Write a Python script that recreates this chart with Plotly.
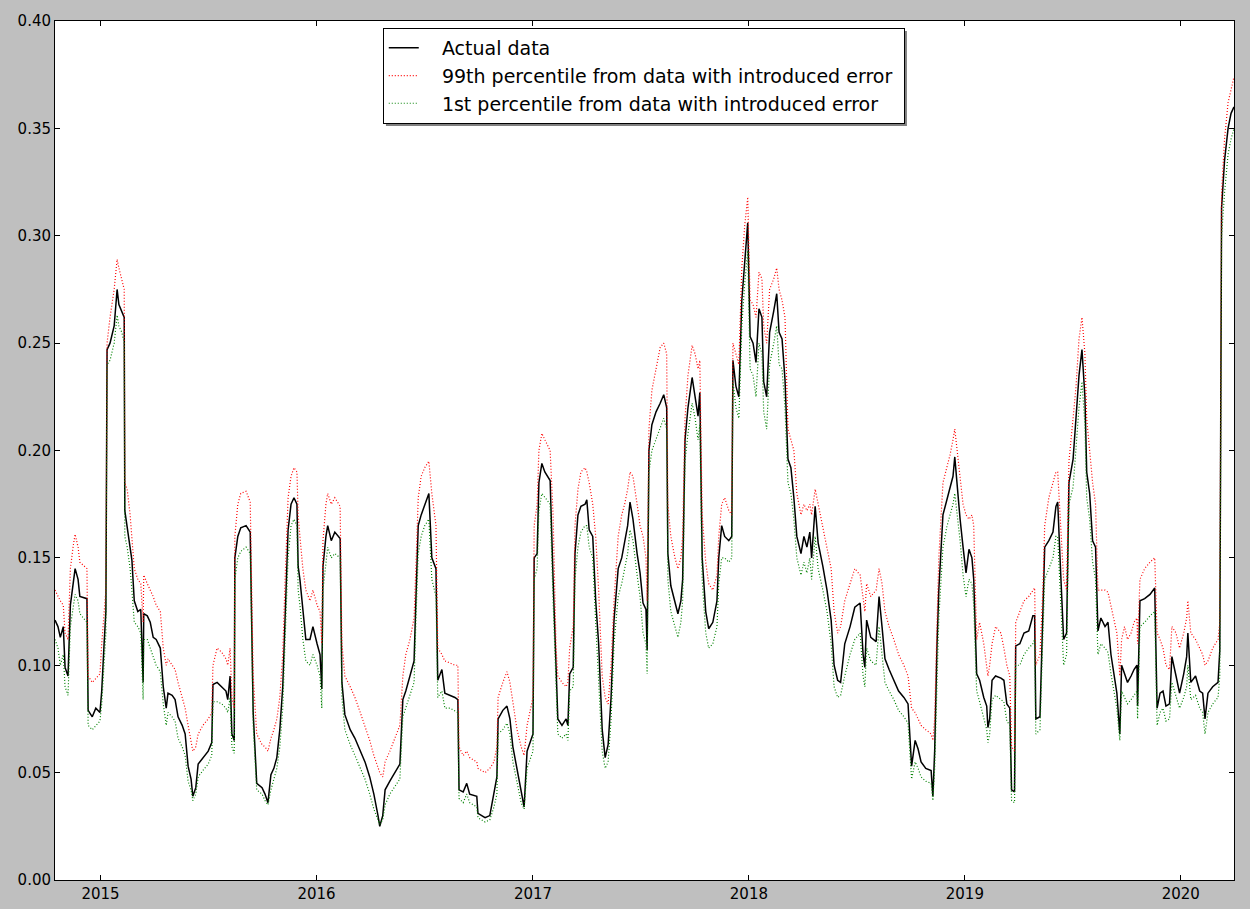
import plotly.graph_objects as go

dates = [
"2014-10-16","2014-10-21","2014-10-25","2014-10-30","2014-11-02","2014-11-07","2014-11-11","2014-11-16","2014-11-19","2014-11-24",
"2014-11-27","2014-12-09","2014-12-11","2014-12-18","2014-12-24","2014-12-31","2015-01-03","2015-01-07","2015-01-10","2015-01-12",
"2015-01-17","2015-01-24","2015-01-29","2015-02-01","2015-02-06","2015-02-10","2015-02-11","2015-02-15","2015-02-20","2015-02-23",
"2015-02-27","2015-03-05","2015-03-10","2015-03-14","2015-03-15","2015-03-21","2015-03-26","2015-03-31","2015-04-05","2015-04-12",
"2015-04-17","2015-04-22","2015-04-25","2015-05-02","2015-05-07","2015-05-12","2015-05-19","2015-05-24","2015-05-29","2015-06-03",
"2015-06-06","2015-06-11","2015-06-15","2015-06-23","2015-07-02","2015-07-08","2015-07-10","2015-07-17","2015-07-25","2015-08-01",
"2015-08-04","2015-08-08","2015-08-11","2015-08-15","2015-08-16","2015-08-21","2015-08-26","2015-09-04","2015-09-11","2015-09-16",
"2015-09-22","2015-10-01","2015-10-06","2015-10-11","2015-10-16","2015-10-21","2015-10-26","2015-10-31","2015-11-05","2015-11-09",
"2015-11-14","2015-11-19","2015-11-24","2015-11-29","2015-12-01","2015-12-04","2015-12-09","2015-12-14","2015-12-21","2015-12-26",
"2016-01-02","2016-01-07","2016-01-10","2016-01-12","2016-01-17","2016-01-20","2016-01-26","2016-02-01","2016-02-10","2016-02-13",
"2016-02-18","2016-02-27","2016-03-06","2016-03-15","2016-03-23","2016-03-31","2016-04-07","2016-04-14","2016-04-17","2016-04-22",
"2016-04-26","2016-05-04","2016-05-13","2016-05-21","2016-05-26","2016-05-31","2016-06-07","2016-06-14","2016-06-17","2016-06-21",
"2016-06-26","2016-07-02","2016-07-09","2016-07-14","2016-07-21","2016-07-24","2016-07-31","2016-08-05","2016-08-14","2016-08-22",
"2016-08-27","2016-08-29","2016-09-05","2016-09-11","2016-09-16","2016-09-28","2016-09-30","2016-10-12","2016-10-20","2016-10-27",
"2016-11-01","2016-11-03","2016-11-11","2016-11-18","2016-11-23","2016-11-28","2016-12-05","2016-12-12","2016-12-17","2016-12-22",
"2017-01-01","2017-01-03","2017-01-08","2017-01-11","2017-01-16","2017-01-21","2017-01-30","2017-02-04","2017-02-09","2017-02-12",
"2017-02-19","2017-02-26","2017-03-01","2017-03-04","2017-03-10","2017-03-13","2017-03-18","2017-03-23","2017-03-30","2017-04-02",
"2017-04-06","2017-04-12","2017-04-17","2017-04-22","2017-04-28","2017-05-03","2017-05-08","2017-05-13","2017-05-18","2017-05-25",
"2017-05-31","2017-06-05","2017-06-10","2017-06-14","2017-06-19","2017-06-26","2017-07-01","2017-07-06","2017-07-11","2017-07-13",
"2017-07-16","2017-07-21","2017-07-28","2017-08-04","2017-08-10","2017-08-15","2017-08-17","2017-08-22","2017-08-29","2017-09-03",
"2017-09-08","2017-09-11","2017-09-15","2017-09-20","2017-09-27","2017-10-02","2017-10-07","2017-10-10","2017-10-14","2017-10-20",
"2017-10-25","2017-11-01","2017-11-08","2017-11-11","2017-11-16","2017-11-21","2017-11-28","2017-12-03","2017-12-05","2017-12-10",
"2017-12-15","2017-12-20","2017-12-25","2017-12-30","2018-01-03","2018-01-08","2018-01-13","2018-01-18","2018-01-23","2018-01-26",
"2018-01-31","2018-02-05","2018-02-12","2018-02-17","2018-02-21","2018-02-26","2018-03-03","2018-03-08","2018-03-13","2018-03-18",
"2018-03-23","2018-03-30","2018-04-04","2018-04-09","2018-04-14","2018-04-17","2018-04-23","2018-04-28","2018-05-06","2018-05-13",
"2018-05-20","2018-05-25","2018-05-31","2018-06-05","2018-06-12","2018-06-21","2018-06-29","2018-07-08","2018-07-13","2018-07-16",
"2018-07-19","2018-07-26","2018-08-04","2018-08-09","2018-08-14","2018-08-19","2018-08-26","2018-09-03","2018-09-11","2018-09-20",
"2018-09-27","2018-10-03","2018-10-09","2018-10-14","2018-10-19","2018-10-27","2018-11-05","2018-11-08","2018-11-11","2018-11-15",
"2018-11-18","2018-11-25","2018-12-02","2018-12-07","2018-12-12","2018-12-15","2018-12-19","2018-12-24","2018-12-29","2019-01-03",
"2019-01-08","2019-01-13","2019-01-16","2019-01-21","2019-01-26","2019-02-02","2019-02-07","2019-02-09","2019-02-12","2019-02-16",
"2019-02-22","2019-03-03","2019-03-08","2019-03-13","2019-03-18","2019-03-21","2019-03-26","2019-03-28","2019-04-04","2019-04-11",
"2019-04-19","2019-04-26","2019-04-29","2019-05-01","2019-05-08","2019-05-13","2019-05-16","2019-05-23","2019-05-30","2019-06-04",
"2019-06-07","2019-06-12","2019-06-17","2019-06-22","2019-06-26","2019-07-03","2019-07-08","2019-07-13","2019-07-18","2019-07-23",
"2019-07-26","2019-07-31","2019-08-05","2019-08-10","2019-08-14","2019-08-19","2019-08-26","2019-08-31","2019-09-05","2019-09-10",
"2019-09-15","2019-09-20","2019-09-23","2019-09-28","2019-10-03","2019-10-09","2019-10-14","2019-10-19","2019-10-20","2019-10-24",
"2019-11-01","2019-11-10","2019-11-18","2019-11-22","2019-11-27","2019-12-02","2019-12-07","2019-12-13","2019-12-17","2019-12-24",
"2019-12-30","2020-01-06","2020-01-11","2020-01-13","2020-01-18","2020-01-26","2020-02-02","2020-02-07","2020-02-11","2020-02-16",
"2020-02-24","2020-03-04","2020-03-07","2020-03-10","2020-03-15","2020-03-21","2020-03-26","2020-03-31",
]

actual = [
0.121,0.118,0.113,0.118,0.099,0.095,0.128,0.140,0.145,0.140,
0.132,0.131,0.079,0.076,0.080,0.078,0.088,0.110,0.125,0.247,
0.250,0.258,0.275,0.268,0.265,0.262,0.172,0.165,0.155,0.149,
0.130,0.125,0.126,0.092,0.124,0.123,0.120,0.113,0.112,0.108,
0.090,0.080,0.087,0.086,0.084,0.076,0.072,0.068,0.053,0.047,
0.039,0.043,0.054,0.057,0.060,0.064,0.091,0.092,0.090,0.088,
0.084,0.095,0.068,0.065,0.150,0.160,0.164,0.165,0.162,0.078,
0.045,0.043,0.040,0.036,0.049,0.052,0.057,0.070,0.090,0.123,
0.163,0.175,0.178,0.175,0.146,0.140,0.125,0.112,0.112,0.118,
0.110,0.105,0.089,0.146,0.160,0.165,0.158,0.162,0.159,0.092,
0.077,0.070,0.066,0.060,0.055,0.048,0.040,0.030,0.025,0.030,
0.042,0.046,0.050,0.054,0.084,0.088,0.095,0.102,0.130,0.165,
0.170,0.175,0.180,0.150,0.145,0.093,0.098,0.087,0.086,0.085,
0.084,0.042,0.041,0.045,0.040,0.039,0.031,0.029,0.030,0.040,
0.048,0.075,0.079,0.081,0.075,0.062,0.051,0.040,0.034,0.060,
0.068,0.150,0.152,0.185,0.194,0.190,0.186,0.140,0.092,0.075,
0.072,0.075,0.072,0.096,0.099,0.152,0.170,0.174,0.175,0.177,
0.163,0.160,0.130,0.110,0.070,0.057,0.063,0.085,0.121,0.145,
0.150,0.157,0.165,0.176,0.168,0.152,0.143,0.129,0.126,0.107,
0.200,0.212,0.218,0.222,0.226,0.220,0.152,0.137,0.130,0.124,
0.130,0.140,0.205,0.220,0.234,0.226,0.216,0.227,0.150,0.125,
0.117,0.120,0.130,0.150,0.165,0.160,0.158,0.160,0.242,0.230,
0.225,0.270,0.290,0.306,0.253,0.250,0.241,0.266,0.262,0.232,
0.225,0.255,0.265,0.273,0.255,0.252,0.233,0.196,0.192,0.178,
0.160,0.152,0.160,0.155,0.162,0.150,0.174,0.157,0.146,0.135,
0.121,0.100,0.093,0.092,0.110,0.118,0.127,0.129,0.105,0.099,
0.121,0.113,0.111,0.132,0.118,0.103,0.098,0.093,0.088,0.085,
0.082,0.053,0.065,0.061,0.055,0.052,0.051,0.039,0.060,0.110,
0.135,0.170,0.178,0.183,0.188,0.197,0.182,0.168,0.155,0.143,
0.154,0.150,0.140,0.096,0.093,0.085,0.081,0.071,0.075,0.093,
0.095,0.094,0.093,0.082,0.080,0.042,0.041,0.109,0.110,0.115,
0.116,0.123,0.123,0.075,0.076,0.125,0.155,0.158,0.162,0.174,
0.176,0.143,0.112,0.115,0.185,0.196,0.215,0.235,0.247,0.225,
0.190,0.180,0.158,0.155,0.116,0.122,0.118,0.120,0.105,0.095,
0.087,0.068,0.100,0.096,0.092,0.095,0.098,0.100,0.081,0.130,
0.131,0.133,0.136,0.080,0.087,0.088,0.081,0.082,0.104,0.095,
0.087,0.096,0.104,0.115,0.092,0.095,0.088,0.087,0.075,0.087,
0.090,0.092,0.107,0.313,0.335,0.350,0.357,0.360,
]

p99 = [
0.135,0.132,0.130,0.128,0.115,0.112,0.145,0.156,0.161,0.155,
0.148,0.145,0.095,0.092,0.094,0.096,0.110,0.125,0.135,0.250,
0.262,0.275,0.289,0.285,0.280,0.275,0.185,0.182,0.170,0.160,
0.145,0.140,0.138,0.120,0.142,0.138,0.135,0.132,0.128,0.125,
0.108,0.100,0.103,0.100,0.098,0.092,0.085,0.080,0.072,0.065,
0.060,0.062,0.068,0.072,0.075,0.078,0.100,0.108,0.106,0.103,
0.100,0.108,0.085,0.080,0.160,0.175,0.180,0.181,0.176,0.095,
0.068,0.063,0.062,0.060,0.066,0.070,0.075,0.085,0.105,0.140,
0.178,0.188,0.192,0.190,0.170,0.160,0.145,0.135,0.130,0.135,
0.128,0.125,0.110,0.158,0.175,0.180,0.175,0.178,0.174,0.110,
0.095,0.090,0.085,0.078,0.072,0.065,0.058,0.052,0.050,0.048,
0.055,0.060,0.066,0.072,0.095,0.105,0.112,0.122,0.145,0.178,
0.188,0.192,0.195,0.180,0.165,0.108,0.105,0.102,0.101,0.100,
0.100,0.062,0.058,0.060,0.057,0.055,0.052,0.050,0.052,0.055,
0.062,0.085,0.092,0.097,0.092,0.082,0.070,0.062,0.058,0.072,
0.085,0.165,0.175,0.200,0.208,0.205,0.200,0.170,0.108,0.095,
0.092,0.090,0.092,0.108,0.118,0.165,0.182,0.190,0.192,0.190,
0.185,0.175,0.160,0.135,0.095,0.085,0.082,0.100,0.130,0.160,
0.170,0.175,0.182,0.190,0.188,0.175,0.165,0.160,0.150,0.130,
0.210,0.228,0.238,0.248,0.250,0.245,0.175,0.160,0.150,0.145,
0.150,0.160,0.215,0.235,0.249,0.245,0.238,0.242,0.170,0.148,
0.138,0.135,0.142,0.160,0.175,0.178,0.172,0.170,0.250,0.245,
0.240,0.285,0.305,0.318,0.270,0.268,0.262,0.283,0.280,0.258,
0.250,0.275,0.280,0.285,0.275,0.270,0.262,0.210,0.205,0.200,
0.180,0.170,0.175,0.172,0.175,0.170,0.182,0.175,0.165,0.155,
0.145,0.125,0.115,0.118,0.130,0.138,0.145,0.142,0.130,0.125,
0.138,0.132,0.135,0.145,0.138,0.125,0.118,0.112,0.105,0.100,
0.095,0.080,0.078,0.075,0.072,0.070,0.068,0.065,0.075,0.120,
0.150,0.185,0.192,0.198,0.205,0.210,0.200,0.188,0.175,0.170,
0.168,0.170,0.165,0.112,0.120,0.110,0.100,0.095,0.100,0.110,
0.118,0.115,0.108,0.100,0.095,0.062,0.060,0.120,0.125,0.130,
0.132,0.135,0.136,0.100,0.105,0.135,0.165,0.178,0.185,0.190,
0.190,0.165,0.140,0.135,0.195,0.215,0.230,0.252,0.262,0.245,
0.215,0.200,0.185,0.175,0.135,0.135,0.135,0.134,0.128,0.122,
0.115,0.095,0.112,0.118,0.112,0.115,0.120,0.122,0.110,0.140,
0.145,0.148,0.150,0.115,0.112,0.108,0.100,0.098,0.118,0.115,
0.108,0.115,0.122,0.130,0.115,0.112,0.108,0.105,0.100,0.102,
0.108,0.112,0.120,0.320,0.345,0.362,0.368,0.374,
]

p1 = [
0.112,0.108,0.100,0.105,0.090,0.086,0.118,0.128,0.133,0.130,
0.124,0.120,0.072,0.070,0.072,0.074,0.082,0.100,0.115,0.240,
0.242,0.250,0.263,0.258,0.255,0.250,0.160,0.155,0.145,0.135,
0.120,0.118,0.115,0.084,0.112,0.112,0.108,0.103,0.100,0.097,
0.082,0.072,0.078,0.076,0.074,0.066,0.062,0.058,0.046,0.042,
0.037,0.040,0.048,0.051,0.054,0.058,0.083,0.083,0.082,0.080,
0.078,0.085,0.062,0.059,0.140,0.150,0.153,0.155,0.152,0.072,
0.042,0.040,0.037,0.035,0.042,0.047,0.052,0.062,0.080,0.112,
0.150,0.165,0.168,0.165,0.135,0.128,0.112,0.102,0.100,0.105,
0.100,0.095,0.080,0.135,0.148,0.155,0.150,0.152,0.150,0.085,
0.070,0.063,0.058,0.052,0.047,0.040,0.033,0.028,0.026,0.028,
0.035,0.040,0.044,0.047,0.076,0.080,0.086,0.092,0.120,0.152,
0.160,0.165,0.168,0.140,0.132,0.085,0.088,0.080,0.080,0.079,
0.078,0.038,0.036,0.040,0.036,0.034,0.029,0.027,0.028,0.034,
0.040,0.068,0.070,0.073,0.068,0.055,0.045,0.036,0.033,0.052,
0.060,0.140,0.145,0.172,0.180,0.178,0.175,0.130,0.085,0.068,
0.066,0.068,0.065,0.088,0.090,0.140,0.155,0.162,0.165,0.165,
0.155,0.150,0.120,0.095,0.060,0.052,0.055,0.075,0.110,0.132,
0.138,0.145,0.152,0.163,0.158,0.142,0.132,0.115,0.110,0.096,
0.190,0.200,0.205,0.210,0.215,0.210,0.140,0.125,0.118,0.113,
0.120,0.130,0.195,0.208,0.222,0.215,0.205,0.212,0.140,0.115,
0.108,0.110,0.118,0.138,0.150,0.150,0.148,0.150,0.232,0.220,
0.215,0.258,0.278,0.293,0.238,0.235,0.225,0.250,0.245,0.218,
0.210,0.240,0.250,0.258,0.240,0.238,0.220,0.185,0.180,0.168,
0.150,0.142,0.148,0.143,0.150,0.140,0.160,0.145,0.135,0.125,
0.110,0.090,0.085,0.086,0.095,0.105,0.112,0.115,0.095,0.090,
0.108,0.102,0.100,0.118,0.105,0.092,0.088,0.084,0.079,0.076,
0.073,0.047,0.055,0.052,0.048,0.046,0.045,0.037,0.052,0.100,
0.122,0.155,0.165,0.170,0.175,0.180,0.170,0.158,0.142,0.132,
0.140,0.138,0.128,0.088,0.083,0.075,0.070,0.064,0.068,0.084,
0.086,0.084,0.083,0.074,0.072,0.037,0.036,0.100,0.100,0.105,
0.108,0.110,0.112,0.068,0.070,0.115,0.140,0.145,0.150,0.160,
0.160,0.130,0.100,0.105,0.175,0.183,0.200,0.220,0.232,0.212,
0.178,0.168,0.148,0.140,0.105,0.110,0.108,0.106,0.096,0.088,
0.080,0.065,0.088,0.085,0.082,0.084,0.086,0.088,0.075,0.118,
0.120,0.123,0.125,0.072,0.078,0.080,0.074,0.075,0.092,0.085,
0.080,0.085,0.090,0.100,0.084,0.086,0.080,0.078,0.068,0.078,
0.082,0.085,0.095,0.300,0.320,0.338,0.345,0.350,
]

x_range = ["2014-10-16", "2020-03-31"]
y_ticks = [0.00, 0.05, 0.10, 0.15, 0.20, 0.25, 0.30, 0.35, 0.40]
y_labels = ["0.00", "0.05", "0.10", "0.15", "0.20", "0.25", "0.30", "0.35", "0.40"]
series_names = ["Actual data",
                "99th percentile from data with introduced error",
                "1st percentile from data with introduced error"]

assert len(dates) == len(actual) == len(p99) == len(p1)

FONT = "DejaVu Sans, Liberation Sans, sans-serif"
PAD = "\u00a0\u00a0\u00a0"

fig = go.Figure()
fig.add_trace(go.Scatter(x=dates, y=actual, mode="lines", name=PAD + series_names[0],
                         line=dict(color="black", width=1.5)))
fig.add_trace(go.Scatter(x=dates, y=p99, mode="lines", name=PAD + series_names[1] + "\u00a0",
                         line=dict(color="#ff0000", width=1.2, dash="1px,2px")))
fig.add_trace(go.Scatter(x=dates, y=p1, mode="lines", name=PAD + series_names[2],
                         line=dict(color="#008000", width=1.2, dash="1px,2px")))

axis_common = dict(
    showline=True, linecolor="black", linewidth=1, mirror="ticks",
    ticks="inside", ticklen=5, tickcolor="black", tickwidth=1,
    showgrid=False, zeroline=False, automargin=False,
    tickfont=dict(family=FONT, size=15, color="black"),
)

# legend shadow (matplotlib-style drop shadow)
fig.add_shape(type="rect", xref="paper", yref="paper",
              x0=0.2807, x1=0.7226, y0=0.8778, y1=0.9884,
              fillcolor="#808080", line=dict(width=0), layer="above")

fig.update_layout(
    width=1250, height=909,
    paper_bgcolor="#bfbfbf", plot_bgcolor="white",
    margin=dict(l=55, r=16, t=21, b=29),
    showlegend=True,
    legend=dict(
        x=0.278, y=0.99185, xanchor="left", yanchor="top",
        bgcolor="white", bordercolor="black", borderwidth=1,
        font=dict(family=FONT, size=19, color="black"),
        itemwidth=30,
    ),
    xaxis=dict(type="date", range=x_range, tickformat="%Y", dtick="M12",
               tick0="2015-01-01", **axis_common),
    yaxis=dict(range=[0, 0.4], tickvals=y_ticks, ticktext=y_labels, **axis_common),
)

fig.write_html("out.html",
               config={"displayModeBar": False},
               post_script="document.body.style.margin='0';"
                           "document.body.style.background='#bfbfbf';")
